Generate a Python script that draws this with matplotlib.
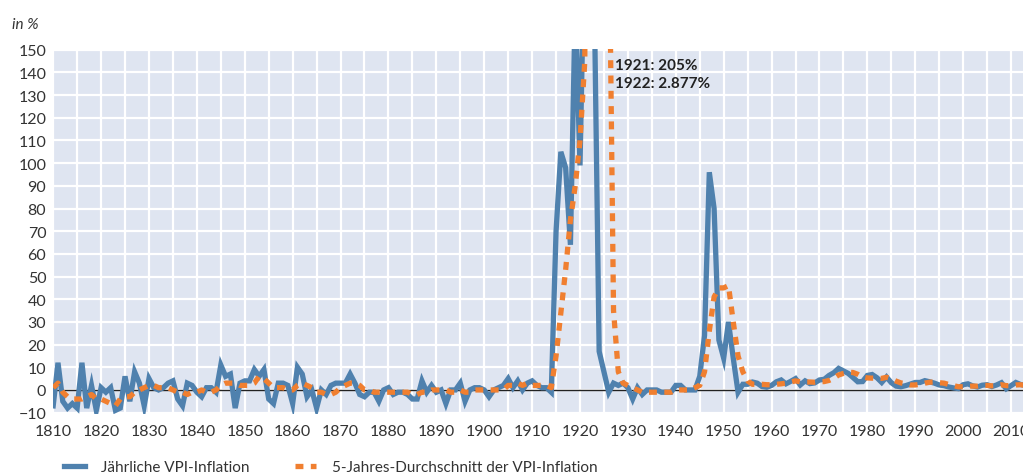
import numpy as np
import matplotlib
matplotlib.use("Agg")
import matplotlib.pyplot as plt
from matplotlib.ticker import MultipleLocator

plt.rcParams['font.family'] = ['Lato', 'DejaVu Sans']

# years 1810 .. 2013
years = list(range(1810, 2014))

# annual CPI inflation in %
annual = [
    -7, 12, -5, -8, -6, -8, 12, -8, 2, -9,          # 1810-1819
    1, -1, 1, -9, -8, 6, -5, 8, 3, -7,              # 1820-1829
    5, 1, 0, 1, 3, 4, -4, -7, 3, 2,                 # 1830-1839
    -1, -3, 1, 1, -1, 11, 6, 7, -8, 3,              # 1840-1849
    4, 4, 9, 6, 9, -4, -6, 3, 3, 2,                 # 1850-1859
    -6, 10, 7, -3, 0, -8, 0, -2, 2, 3,              # 1860-1869
    3, 3, 7, 3, -2, -3, -1, -1, -5, 0,              # 1870-1879
    1, -2, -1, -1, -2, -4, -4, 4, -1, 2,            # 1880-1889
    -1, 0, -6, 0, 0, 3, -5, 0, 1, 1,                # 1890-1899
    0, -3, 0, 1, 2, 5, 1, 4, 0, 3,                  # 1900-1909
    4, 2, 1, 1, -1, 70, 105, 98, 64, 170,           # 1910-1919
    99, 205, 2877, 170, 17, 8, -1, 3, 2, 3,         # 1920-1929
    1, -4, 1, -2, 0, 0, 0, -1, -1, -1,              # 1930-1939
    2, 2, 0, 0, 0, 6, 24, 96, 80, 22,               # 1940-1949
    14, 30, 14, -1, 2.5, 2.5, 3.5, 3, 1.5, 1.2,     # 1950-1959
    2, 3.6, 4.4, 2.7, 3.8, 5.0, 2.2, 4.0, 2.8, 3.1,  # 1960-1969
    4.4, 4.7, 6.4, 7.6, 9.5, 8.4, 7.3, 5.5, 3.6, 3.7,  # 1970-1979
    6.4, 6.8, 5.4, 3.3, 5.7, 3.2, 1.7, 1.4, 1.9, 2.6,  # 1980-1989
    3.3, 3.3, 4.1, 3.6, 3.0, 2.2, 1.9, 1.3, 0.9, 0.6,  # 1990-1999
    2.3, 2.7, 1.8, 1.3, 2.1, 2.3, 1.5, 2.2, 3.2, 0.5,  # 2000-2009
    1.9, 3.3, 2.4, 2.0,                             # 2010-2013
]

# 5-year average of CPI inflation in %
avg5 = [
    1, 3, -1, -3, -4, -4, -4, -3, -2, -4,           # 1810-1819
    -4, -5, -6, -7, -4, -3, -3, -1, 0, 1,           # 1820-1829
    2, 2, 1, 1, 1, 0, -1, -1, -2, -1,               # 1830-1839
    -1, 0, -1, -1, 0, 2, 3, 3, 3, 2,                # 1840-1849
    2, 2, 3, 6, 5, 3, 1, 1, 1, 0,                   # 1850-1859
    0, 2, 3, 2, 1, -1, -1, -2, -2, -1,              # 1860-1869
    1, 2, 3, 3, 2, 0, 0, -1, -1, -1,                # 1870-1879
    -1, -1, -1, -1, -1, -2, -2, -1, -1, 0,          # 1880-1889
    0, 0, 0, -1, -1, 0, -1, -1, 0, 0,               # 1890-1899
    0, 0, 0, 0, 0, 2, 2, 3, 2, 3,                   # 1900-1909
    2, 2, 2, 2, 1, 15, 34, 53, 75, 90,              # 1910-1919
    110, 145, 700, 720, 700, 650, 220, 35, 8, 3,    # 1920-1929
    2, 1, 0, -1, -1, -1, -1, -1, -1, -1,            # 1930-1939
    0, 0, 0, 0, 1, 2, 8, 26, 41, 45,                # 1940-1949
    45, 46, 30, 15, 8, 4, 2.5, 2.5, 2.5, 2.3,       # 1950-1959
    2.3, 2.5, 2.7, 3.0, 3.5, 4.0, 3.6, 3.5, 3.5, 3.4,  # 1960-1969
    3.6, 3.7, 4.2, 5.2, 6.6, 7.3, 7.8, 7.7, 6.9, 5.7,  # 1970-1979
    5.3, 5.2, 5.2, 5.1, 5.6, 4.9, 3.9, 3.1, 2.8, 2.2,  # 1980-1989
    2.2, 2.5, 3.0, 3.4, 3.5, 3.2, 3.0, 2.4, 1.9, 1.4,  # 1990-1999
    1.4, 1.6, 1.7, 1.7, 2.0, 2.0, 1.8, 1.9, 2.3, 1.9,  # 2000-2009
    1.9, 2.2, 2.3, 2.0,                             # 2010-2013
]

annot_text = "1921: 205%\n1922: 2.877%"

BLUE = "#4f81ae"
ORANGE = "#f07f30"
BG = "#dfe5f1"

fig = plt.figure(figsize=(10.23, 4.77), dpi=100)
ax = fig.add_axes([0.052, 0.130, 0.948, 0.765])
ax.set_facecolor(BG)

ax.plot(years, annual, color=BLUE, lw=3.8, solid_joinstyle='miter',
        label="Jährliche VPI-Inflation", zorder=3)
ax.plot(years, avg5, color=ORANGE, lw=3.8, dashes=(1.5, 1.4),
        label="5-Jahres-Durchschnitt der VPI-Inflation", zorder=4)
ax.axhline(0, color="#222222", lw=1.0, zorder=2)

ax.set_xlim(1810, 2012.5)
ax.set_ylim(-10.6, 150.3)
ax.xaxis.set_major_locator(MultipleLocator(10))
ax.xaxis.set_minor_locator(MultipleLocator(5))
ax.yaxis.set_major_locator(MultipleLocator(10))
ax.grid(which='both', color='white', lw=1.6, zorder=1)
ax.set_axisbelow(True)
ax.tick_params(which='both', length=0, labelsize=11.5, colors='#333333', pad=7)
ax.tick_params(axis='y', pad=5)
for s in ax.spines.values():
    s.set_visible(False)

ax.text(1927.4, 146.5, annot_text, fontsize=11, fontweight='bold',
        color='#222222', va='top', ha='left', linespacing=1.4, zorder=5)

fig.text(0.012, 0.948, "in %", fontsize=11, style='italic', color='#333333',
         va='center')

ax.legend(loc='upper left', bbox_to_anchor=(-0.003, -0.088), ncol=2, frameon=False,
          fontsize=11, handlelength=1.4, columnspacing=3.0, handletextpad=1.0,
          labelcolor='#333333')

fig.savefig("out.png", dpi=100)
